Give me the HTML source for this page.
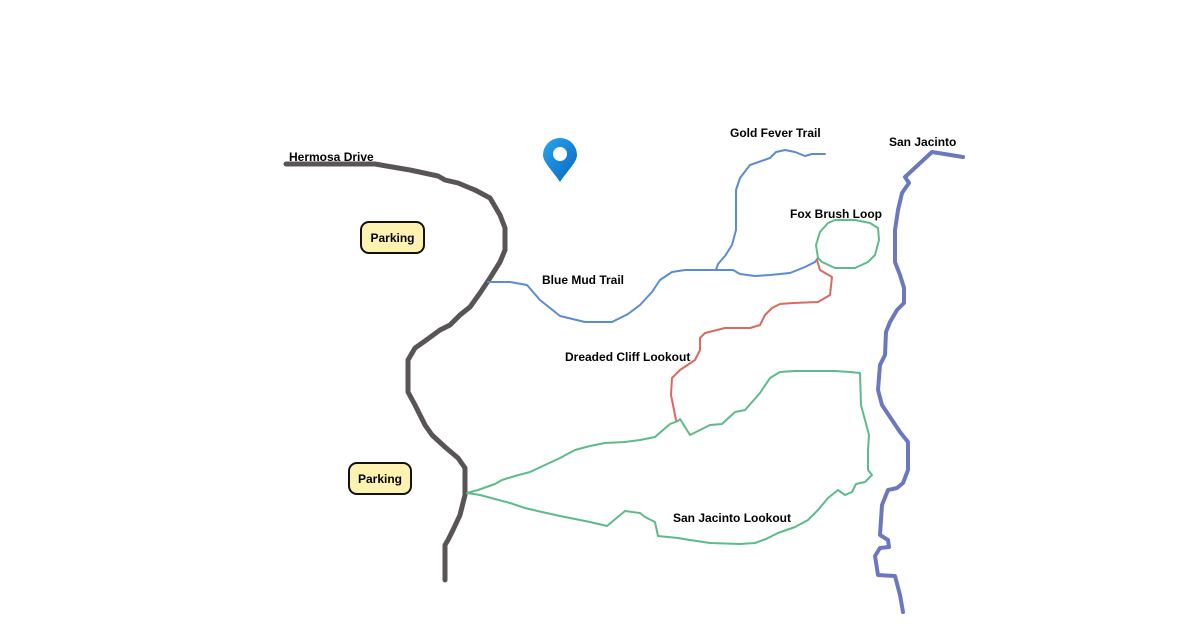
<!DOCTYPE html>
<html><head><meta charset="utf-8"><style>
html,body{margin:0;padding:0;background:#fff;}
svg{display:block;}
text{font-family:"Liberation Sans",Arial,sans-serif;font-weight:bold;font-size:12px;fill:#000;}
</style></head><body>
<svg width="1200" height="630" viewBox="0 0 1200 630" xmlns="http://www.w3.org/2000/svg">
<g fill="none" stroke-linejoin="round" stroke-linecap="round">
<polyline stroke="#5a5555" stroke-width="5" points="286,164 375,164 410,170 438,176 445,180 458,183 470,188 475,190 490,198 500,215 505,228 505,250 500,262 490,278 480,293 470,307 460,315 450,325 440,330 425,341 415,348 408,360 408,392 415,405 425,425 432,435 445,447 458,458 465,468 465,495 460,515 453,530 448,540 445,545 445,580"/>
<polyline stroke="#5b8bd0" stroke-width="2" points="488,282 510,282 527,285 540,300 560,316 585,322 612,322 628,314 640,305 652,292 660,280 672,272 685,270 733,270 740,274 755,276 770,275 790,273 805,267 815,262 818,258"/>
<polyline stroke="#5b8bd0" stroke-width="2" points="716,270 718,264 725,256 732,245 736,230 736,190 740,178 750,165 770,158 776,152 785,150 795,152 805,156 812,154 825,154"/>
<polyline stroke="#5dbb8a" stroke-width="2" points="818,258 816,245 820,232 828,223 835,220 855,220 870,223 878,228 879,240 875,255 868,262 855,268 835,268 822,262 818,258"/>
<polyline stroke="#d86a5e" stroke-width="2" points="817,260 820,270 832,277 830,295 818,302 793,303 780,304 772,308 765,315 760,325 750,328 725,328 705,333 700,338 700,350 695,360 686,366 680,370 672,378 671,395 674,410 676,420"/>
<polyline stroke="#5dbb8a" stroke-width="2" points="467,493 478,490 495,484 502,480 515,476 530,472 545,465 560,458 575,450 590,446 605,443 625,442 640,440 655,437 670,424 678,421 680,419 690,435 710,425 722,424 735,412 745,410 760,393 770,378 780,372 795,371 815,371 835,371 850,372 860,373 861,405 865,420 869,435 868,450 868,470 872,475 865,482 856,484 852,492 845,495 838,490 828,498 818,510 808,520 795,527 778,533 766,539 755,543 740,544 710,543 690,540 678,538 658,536 655,522 645,517 640,513 625,511 607,526 590,522 575,519 560,516 542,512 525,508 510,503 495,499 480,495 467,493"/>
<polyline stroke="#6b78c0" stroke-width="4" points="963,157 932,152 905,177 909,183 902,193 898,210 895,230 895,262 900,275 904,288 904,303 897,310 890,322 886,332 885,355 880,365 878,390 882,405 892,420 900,432 908,442 908,470 903,483 897,488 888,490 882,505 880,535 888,540 889,547 880,548 875,556 878,575 895,576 900,595 903,612"/>
</g>
<defs><linearGradient id="pg" x1="0" y1="0" x2="1" y2="1"><stop offset="0" stop-color="#27a7ea"/><stop offset="1" stop-color="#0a64c4"/></linearGradient></defs>
<path d="M560,182 C552,170 543,162 543,155 A17,17 0 1 1 577,155 C577,162 568,170 560,182 Z" fill="url(#pg)"/>
<circle cx="560" cy="154" r="7" fill="#fff"/>
<rect x="361" y="222" width="63" height="31" rx="8" fill="#fdf2b0" stroke="#111" stroke-width="2"/>
<text x="392.5" y="242" text-anchor="middle">Parking</text>
<rect x="349" y="463" width="62" height="31" rx="8" fill="#fdf2b0" stroke="#111" stroke-width="2"/>
<text x="380" y="483" text-anchor="middle">Parking</text>
<text x="289" y="161">Hermosa Drive</text>
<text x="542" y="284">Blue Mud Trail</text>
<text x="730" y="137">Gold Fever Trail</text>
<text x="889" y="146">San Jacinto</text>
<text x="790" y="218">Fox Brush Loop</text>
<text x="565" y="361">Dreaded Cliff Lookout</text>
<text x="673" y="522">San Jacinto Lookout</text>
</svg>
</body></html>
